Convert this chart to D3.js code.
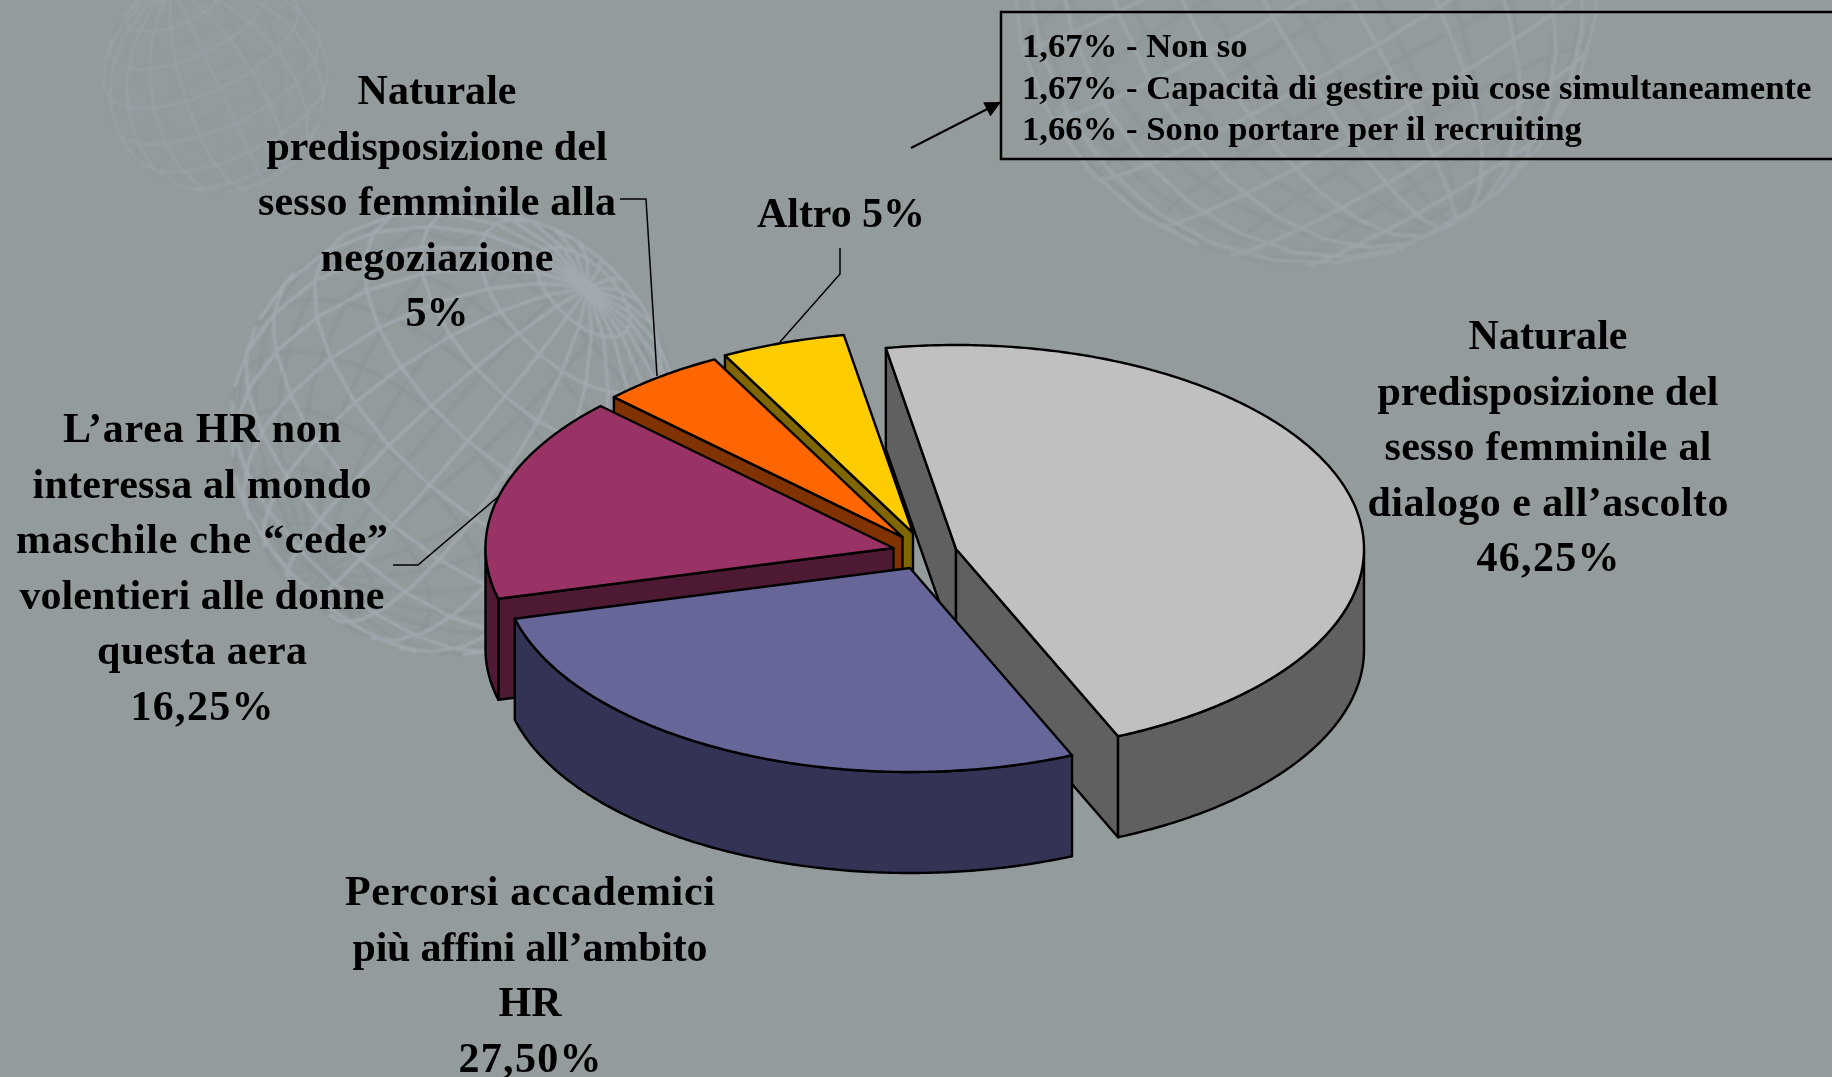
<!DOCTYPE html>
<html>
<head>
<meta charset="utf-8">
<style>
  html, body { margin: 0; padding: 0; background: #939b9d; }
  svg { display: block; }
  text { font-family: "Liberation Serif", serif; font-weight: bold; fill: #000; }
</style>
<script src="https://cdnjs.cloudflare.com/ajax/libs/d3/7.8.5/d3.min.js"></script>
</head>
<body>
<div id="chart"></div>
<script>
const width = 1832, height = 1077;

// data
const categories = [
  "Naturale predisposizione del sesso femminile al dialogo e all’ascolto",
  "Percorsi accademici più affini all’ambito HR",
  "L’area HR non interessa al mondo maschile che “cede” volentieri alle donne questa aera",
  "Naturale predisposizione del sesso femminile alla negoziazione",
  "Altro"
];
const values = [46.25, 27.5, 16.25, 5, 5];
const valueLabels = ["46,25%", "27,50%", "16,25%", "5%", "5%"];
const otherLines = [
  "1,67% - Non so",
  "1,67% - Capacità di gestire più cose simultaneamente",
  "1,66% - Sono portare per il recruiting"
];

// styles and layout
const topColors = ["#c0c0c0", "#666699", "#993366", "#ff6600", "#ffcc00"];
const wallColors = ["#606060", "#333355", "#4d1933", "#803300", "#806600"];
const apexX = [956, 910, 893.5, 902.5, 913];
const apexY = [549, 568, 548, 537, 533];
const radiusScale = [1, 1, 1, 0.985, 0.985];
const paintOrder = [0, 4, 3, 2, 1];

const rx = 408, ry = 204, depth = 101;

const labelBlocks = [
  {x: 1548, y: 349, lines: ["Naturale", "predisposizione del", "sesso femminile al", "dialogo e all’ascolto", valueLabels[0]],
   widths: [159, 341, 327, 361, 143]},
  {x: 530, y: 905, lines: ["Percorsi accademici", "più affini all’ambito", "HR", valueLabels[1]],
   widths: [370, 355, 63, 143]},
  {x: 202, y: 442, lines: ["L’area HR non", "interessa al mondo", "maschile che “cede”", "volentieri alle donne", "questa aera", valueLabels[2]],
   widths: [278, 339, 372, 365, 210, 143]},
  {x: 437, y: 104, lines: ["Naturale", "predisposizione del", "sesso femminile alla", "negoziazione", valueLabels[3]],
   widths: [159, 341, 358, 233, 63]},
  {x: 841, y: 227, lines: ["Altro " + valueLabels[4]], widths: [168]}
];
const leaders = [
  [[620, 199], [646, 199], [657, 376]],
  [[840, 248], [840, 274], [780, 342]],
  [[393, 565], [418, 565], [499, 496]]
];

const svg = d3.select("#chart").append("svg")
    .attr("width", width)
    .attr("height", height);

const defs = svg.append("defs");
defs.append("filter").attr("id", "soft")
  .append("feGaussianBlur").attr("stdDeviation", 0.8);

// faint wire globes behind the chart: far side darker, near side lighter
const globes = [
  {x: 216, y: 80, r: 113, rotate: [20, -25, 25], step: 20, front: "#a0a9b2", back: "#8e9699", sw: 2, op: 0.5},
  {x: 455, y: 430, r: 225, rotate: [35, -30, -43], step: 15, front: "#aab2bc", back: "#868e92", sw: 3, op: 0.65},
  {x: 1305, y: -30, r: 295, rotate: [20, -5, 30], step: 15, front: "#a8b0b6", back: "#888f92", sw: 3.5, op: 0.5}
];

const bg = svg.append("g").attr("filter", "url(#soft)");
const wire = d3.line();

globes.forEach(g => {
  const rotation = d3.geoRotation(g.rotate);
  const rad = Math.PI / 180;
  const lines = d3.geoGraticule().step([g.step, g.step]).precision(g.step).lines();
  const front = [], back = [];
  lines.forEach(l => {
    // meridians come with far apart points, so cut every piece down to one cell
    const coords = [];
    d3.pairs(l.coordinates).forEach(([a, b]) => {
      const n = Math.max(1, Math.ceil(d3.geoDistance(a, b) / rad / g.step));
      const at = d3.geoInterpolate(a, b);
      d3.range(n).forEach(k => coords.push(at(k / n)));
    });
    coords.push(l.coordinates[l.coordinates.length - 1]);
    const pts = coords.map(c => {
      const [lon, lat] = rotation(c);
      return {
        p: [g.x + g.r * Math.cos(lat * rad) * Math.sin(lon * rad), g.y - g.r * Math.sin(lat * rad)],
        z: Math.cos(lat * rad) * Math.cos(lon * rad)
      };
    });
    d3.pairs(pts).forEach(([a, b]) => {
      (a.z + b.z > 0 ? front : back).push(wire([a.p, b.p]));
    });
  });
  bg.append("path")
      .attr("d", back.join(""))
      .attr("fill", "none")
      .attr("stroke", g.back)
      .attr("stroke-width", g.sw * 0.8)
      .attr("opacity", g.op * 0.8);
  bg.append("path")
      .attr("d", front.join(""))
      .attr("fill", "none")
      .attr("stroke", g.front)
      .attr("stroke-width", g.sw)
      .attr("opacity", g.op);
});

// d3.pie gives the angles, then they are flattened onto the ellipse
const startDeg = -9.9;
const pie = d3.pie().sort(null)
    .startAngle(startDeg * Math.PI / 180)
    .endAngle((360 + startDeg) * Math.PI / 180);
const slices = pie(values);

function rimPoint(i, t, dy) {
  return [
    apexX[i] + rx * radiusScale[i] * Math.sin(t),
    apexY[i] - ry * radiusScale[i] * Math.cos(t) + dy
  ];
}

function arcPoints(i, a, b, dy) {
  const n = Math.max(2, Math.ceil((b - a) / 0.01));
  return d3.range(n + 1).map(k => rimPoint(i, a + (b - a) * k / n, dy));
}

const line = d3.line();
const pieG = svg.append("g")
    .attr("stroke", "#000")
    .attr("stroke-width", 2.4)
    .attr("stroke-linejoin", "round");

paintOrder.forEach(i => {
  const s = slices[i];
  const a = s.startAngle, b = s.endAngle;
  const apex = [apexX[i], apexY[i]];
  const apexLow = [apexX[i], apexY[i] + depth];

  // flat side faces that look toward the viewer
  if (Math.sin(a) < 0) {
    const p = rimPoint(i, a, 0), q = rimPoint(i, a, depth);
    pieG.append("path").attr("fill", wallColors[i])
        .attr("d", line([apex, p, q, apexLow]) + "Z");
  }
  if (Math.sin(b) > 0) {
    const p = rimPoint(i, b, 0), q = rimPoint(i, b, depth);
    pieG.append("path").attr("fill", wallColors[i])
        .attr("d", line([apex, p, q, apexLow]) + "Z");
  }

  // rounded outer wall, only the front half of the rim
  const lo = Math.max(a, Math.PI / 2), hi = Math.min(b, Math.PI * 1.5);
  if (hi > lo) {
    const upper = arcPoints(i, lo, hi, 0);
    const lower = arcPoints(i, lo, hi, depth).reverse();
    pieG.append("path").attr("fill", wallColors[i])
        .attr("d", line(upper.concat(lower)) + "Z");
  }

  // top face
  pieG.append("path").attr("fill", topColors[i])
      .attr("d", line([apex].concat(arcPoints(i, a, b, 0))) + "Z");
});

// leader lines
svg.append("g").selectAll("path")
  .data(leaders)
  .join("path")
    .attr("d", d => line(d))
    .attr("fill", "none")
    .attr("stroke", "#000")
    .attr("stroke-width", 1.5);

// labels
const fontSize = 42, lineGap = 55.5;
labelBlocks.forEach(b => {
  svg.append("g").selectAll("text")
    .data(b.lines)
    .join("text")
      .attr("x", b.x)
      .attr("y", (d, k) => b.y + k * lineGap)
      .attr("text-anchor", "middle")
      .attr("font-size", fontSize)
      .attr("textLength", (d, k) => b.widths[k])
      .attr("lengthAdjust", "spacing")
      .text(d => d);
});

// box for the small answers
svg.append("rect")
    .attr("x", 1001).attr("y", 12)
    .attr("width", 900).attr("height", 147)
    .attr("fill", "none")
    .attr("stroke", "#000")
    .attr("stroke-width", 2.5);

svg.append("g").selectAll("text")
  .data(otherLines)
  .join("text")
    .attr("x", 1022)
    .attr("y", (d, k) => 57 + k * 41.5)
    .attr("font-size", 34.7)
    .text(d => d);

// arrow to the box
defs.append("marker")
    .attr("id", "head")
    .attr("viewBox", "0 0 10 10")
    .attr("refX", 10).attr("refY", 5)
    .attr("markerWidth", 18).attr("markerHeight", 16)
    .attr("markerUnits", "userSpaceOnUse")
    .attr("orient", "auto")
  .append("path")
    .attr("d", "M0,0L10,5L0,10Z")
    .attr("fill", "#000");

svg.append("path")
    .attr("d", line([[911, 148], [1001, 102]]))
    .attr("stroke", "#000")
    .attr("stroke-width", 2)
    .attr("marker-end", "url(#head)");
</script>
</body>
</html>
